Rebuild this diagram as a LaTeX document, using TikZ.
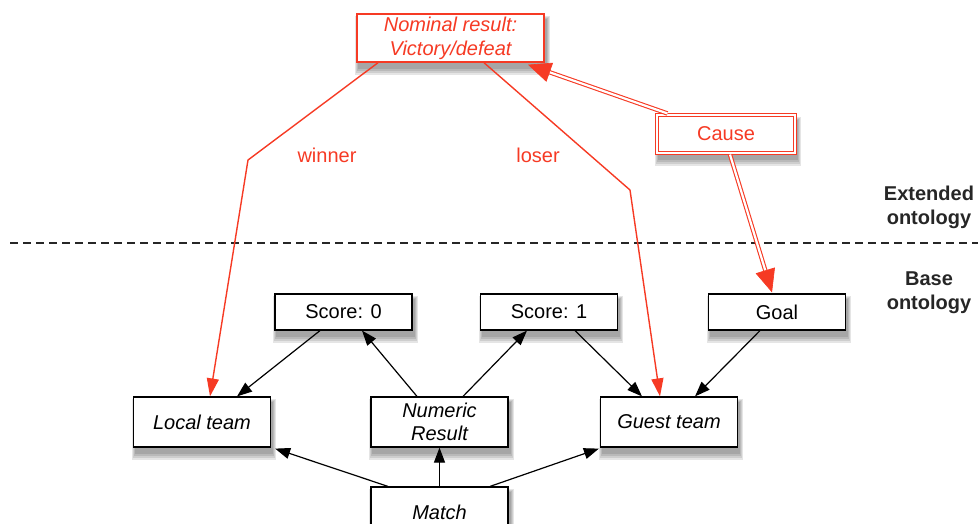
\documentclass[tikz,border=0pt]{standalone}
\usepackage{fontspec}
\setmainfont{Liberation Sans}
\usetikzlibrary{arrows.meta,calc,backgrounds}
\definecolor{myred}{RGB}{246,58,36}
\tikzset{
  box/.style={draw=black, line width=1.2pt, fill=white, minimum width=137pt, minimum height=36pt,
              inner sep=0pt, font=\fontsize{20}{23}\selectfont, align=center},
  tallbox/.style={box, minimum height=50pt, font=\fontsize{20}{23}\selectfont\itshape},
  redbox/.style={draw=myred, text=myred, line width=1.4pt, fill=white, inner sep=0pt,
              font=\fontsize{20}{24}\selectfont\itshape, align=center},
  causebox/.style={draw=myred, double=white, double distance=2pt, line width=1.1pt, text=myred,
              fill=white, inner sep=0pt, font=\fontsize{20}{24}\selectfont},
  arr/.style={draw=black, line width=1.2pt, -{Triangle[length=15pt 0 0,width=11pt 0 0]}},
  redarr/.style={draw=myred, line width=1.4pt, -{Triangle[length=18pt 0 0,width=12pt 0 0]}},
  dbl/.style={draw=myred, line width=1.1pt, double=white, double distance=2.2pt},
  dbltip/.style={draw=white, line width=0.6pt, -{Triangle[length=23pt 0 0,width=20pt 0 0,color=myred]}},
  lbl/.style={text=myred, font=\fontsize{20}{24}\selectfont},
  side/.style={font=\fontsize{20}{24}\selectfont\bfseries, align=center, text=black!85},
  shd/.style={fill=black, opacity=0.1},
}
\newcommand\softshadow[1]{%
  \fill[shd] ($(#1.north west)+(-1,3)$) rectangle ($(#1.south east)+(5,12)$);
  \fill[shd] ($(#1.north west)+(0,4)$) rectangle ($(#1.south east)+(4,10)$);
  \fill[shd] ($(#1.north west)+(1,5)$) rectangle ($(#1.south east)+(3,8)$);
  \fill[shd] ($(#1.north west)+(2,6)$) rectangle ($(#1.south east)+(2,6)$);
}
\begin{document}
\begin{tikzpicture}[x=1pt,y=-1pt]
\useasboundingbox (0,0) rectangle (978,523);

% separator
\coordinate (dl) at (10,243);
\coordinate (dr) at (980,243);
\draw[line width=1.2pt, dash pattern=on 8pt off 5pt, black!85] (dl) -- (dr);

\node[side] (ext) at (929,207) {Extended\\ontology};
\node[side] (base) at (929,293) {Base\\ontology};

% nodes
\node[redbox, minimum width=187pt, minimum height=48pt] (nom) at (450.5,38) {Nominal result:\\Victory/defeat};
\node[causebox, minimum width=138pt, minimum height=38pt] (cause) at (726,134) {Cause};

\node[box] (s0) at (343.5,312) {Score: 0};
\node[box] (s1) at (549,312) {Score: 1};
\node[box] (goal) at (777,312) {Goal};

\node[tallbox] (local) at (202,422) {Local team};
\node[tallbox] (num) at (439.5,422) {Numeric\\Result};
\node[tallbox] (guest) at (669,422) {Guest team};
\node[tallbox] (match) at (439.5,512) {Match};

\begin{scope}[on background layer]
  \softshadow{nom}
  \softshadow{cause}
  \softshadow{s0}
  \softshadow{s1}
  \softshadow{goal}
  \softshadow{local}
  \softshadow{num}
  \softshadow{guest}
  \softshadow{match}
\end{scope}

% red labelled relations
\coordinate (wk) at (248,160);
\coordinate (lk) at (630,190);
\draw[redarr] ($(nom.south)+(-72.5,0)$) -- (wk) -- ($(local.north)+(8,0)$);
\draw[redarr] ($(nom.south)+(33.5,0)$) -- (lk) -- ($(guest.north)+(-9,0)$);
\node[lbl] (wl) at (327,155) {winner};
\node[lbl] (ll) at (538,155) {loser};

% double arrows from Cause
\coordinate (c1) at ($(cause.north west)+(11,-1)$);
\coordinate (n1) at ($(nom.south)+(77.5,2)$);
\draw[dbl, shorten >=20pt] (c1) -- (n1);
\draw[dbltip] ($(c1)!0.5!(n1)$) -- (n1);
\coordinate (c2) at ($(cause.south)+(4,1)$);
\coordinate (g1) at ($(goal.north)+(-5,-1)$);
\draw[dbl, shorten >=20pt] (c2) -- (g1);
\draw[dbltip] ($(c2)!0.5!(g1)$) -- (g1);

% black arrows
\draw[arr] ($(s0.south)+(-23.5,0)$) -- ($(local.north)+(35,0)$);
\draw[arr] ($(num.north)+(-22.5,0)$) -- ($(s0.south)+(18.5,0)$);
\draw[arr] ($(num.north)+(23.5,0)$) -- ($(s1.south)+(-22,0)$);
\draw[arr] ($(s1.south)+(26,0)$) -- ($(guest.north)+(-27,0)$);
\draw[arr] ($(goal.south)+(-17,0)$) -- ($(guest.north)+(26,0)$);
\draw[arr] ($(match.north)+(-51.5,0)$) -- ($(local.south east)+(4,1)$);
\draw[arr] (match.north) -- (num.south);
\draw[arr] ($(match.north)+(50.5,0)$) -- ($(guest.south west)+(-1,1)$);
\end{tikzpicture}
\end{document}
